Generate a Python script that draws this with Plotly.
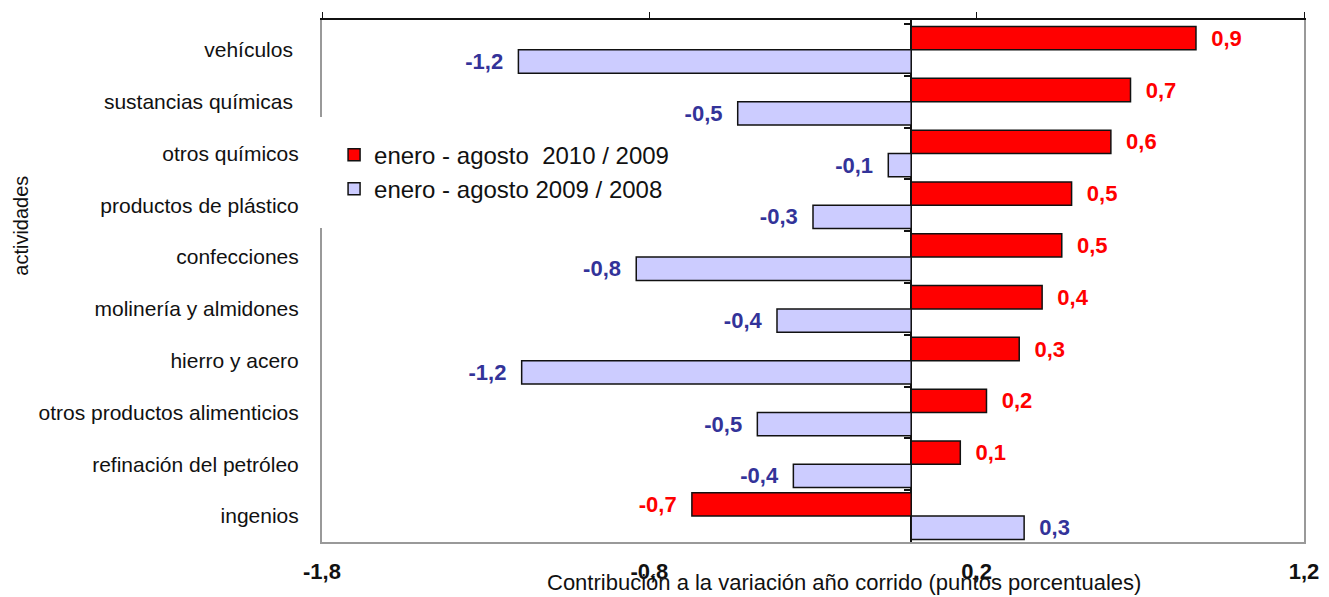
import plotly.graph_objects as go

# Data
actividades = ["vehículos ", "sustancias químicas ", "otros químicos", "productos de plástico",
               "confecciones", "molinería y almidones", "hierro y acero",
               "otros productos alimenticios", "refinación del petróleo", "ingenios"]
var_2010 = [0.87, 0.67, 0.61, 0.49, 0.46, 0.40, 0.33, 0.23, 0.15, -0.67]
var_2009 = [-1.20, -0.53, -0.07, -0.30, -0.84, -0.41, -1.19, -0.47, -0.36, 0.345]
x_ticks = [-1.8, -0.8, 0.2, 1.2]

font = "Arial, Liberation Sans, sans-serif"


def fmt(v):
    return f"{v:.1f}".replace(".", ",")


def bar_text(vals):
    # a little extra room between bar end and label
    return [("  " + fmt(v)) if v >= 0 else (fmt(v) + "  ") for v in vals]


fig = go.Figure()
fig.add_trace(go.Bar(y=actividades, x=var_2010, orientation="h",
                     name="enero - agosto  2010 / 2009",
                     marker_color="#FF0000", marker_line_color="#111111", marker_line_width=1.5,
                     text=bar_text(var_2010), textposition="outside", cliponaxis=False,
                     constraintext="none", hoverinfo="x+y",
                     textfont=dict(color="#FF0000", size=22, family=font, weight="bold")))
fig.add_trace(go.Bar(y=actividades, x=var_2009, orientation="h",
                     name="enero - agosto 2009 / 2008",
                     marker_color="#CCCCFF", marker_line_color="#111111", marker_line_width=1.5,
                     text=bar_text(var_2009), textposition="outside", cliponaxis=False,
                     constraintext="none", hoverinfo="x+y",
                     textfont=dict(color="#333399", size=22, family=font, weight="bold")))

fig.update_layout(
    width=1321, height=589,
    margin=dict(l=314, r=25, t=6, b=55),
    plot_bgcolor="white", paper_bgcolor="white",
    barmode="group", bargap=0.1, bargroupgap=0,
    font=dict(family=font, color="#111111"),
    showlegend=True,
    legend=dict(x=-0.004, xanchor="left", y=0.815, yanchor="top",
                bgcolor="white", bordercolor="white", borderwidth=16,
                font=dict(size=24, color="#111111"), traceorder="normal"),
    xaxis=dict(range=[-1.8, 1.2], tickvals=x_ticks, ticktext=[fmt(t) for t in x_ticks],
               tickfont=dict(size=22, family=font, weight="bold", color="#111111"),
               showgrid=False, zeroline=True, zerolinecolor="#111111", zerolinewidth=2,
               showline=True, linecolor="#999999", linewidth=2, ticks="", ticklabelstandoff=9),
    xaxis2=dict(range=[-1.8, 1.2], tickvals=x_ticks, overlaying="x", side="top",
                showticklabels=False, showgrid=False, zeroline=False,
                showline=True, linecolor="#111111", linewidth=1.5,
                ticks="outside", ticklen=6, tickcolor="#111111"),
    yaxis=dict(autorange="reversed", showgrid=False, showline=True, linecolor="#999999",
               linewidth=2, mirror=True, ticks="", ticklabelstandoff=17,
               tickfont=dict(size=21, family=font, color="#111111")),
    yaxis2=dict(matches="y", overlaying="y", anchor="free", position=0.6,
                showticklabels=False, showgrid=False, showline=False,
                ticks="outside", tickson="boundaries", ticklen=7, tickcolor="#111111",
                tickwidth=2),
)

# invisible traces to activate the secondary axes
fig.add_trace(go.Scatter(x=[x_ticks[0]], y=[actividades[0]], xaxis="x2", mode="markers",
                         marker_opacity=0, showlegend=False, hoverinfo="skip"))
fig.add_trace(go.Scatter(x=[0], y=actividades, xaxis="x", yaxis="y2", mode="markers",
                         marker_opacity=0, showlegend=False, hoverinfo="skip"))

fig.add_annotation(text="Contribución a la variación año corrido (puntos porcentuales)",
                   xref="paper", yref="paper", x=0.532, y=-0.0777,
                   xanchor="center", yanchor="middle", showarrow=False,
                   font=dict(size=22, family=font, color="#111111"))
fig.add_annotation(text="actividades", textangle=-90,
                   xref="paper", yref="paper", x=-0.306, y=0.605,
                   xanchor="center", yanchor="middle", showarrow=False,
                   font=dict(size=20, family=font, color="#111111"))

fig.write_html("out.html")
